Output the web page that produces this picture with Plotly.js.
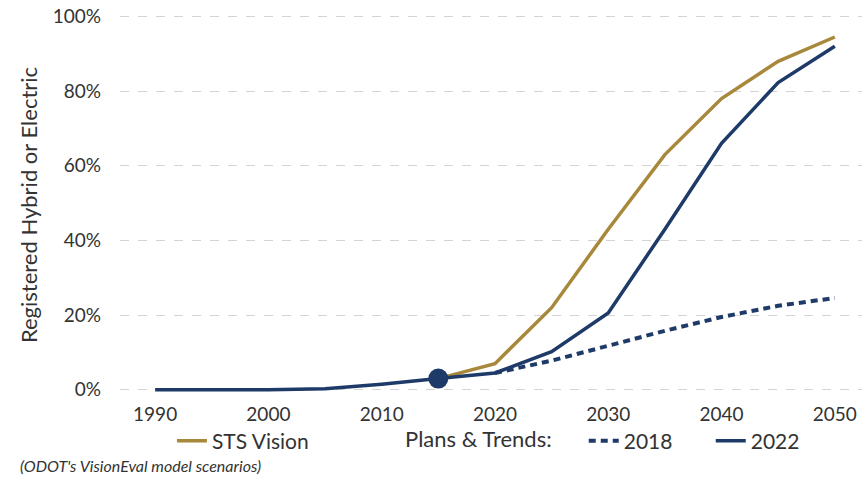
<!DOCTYPE html>
<html><head><meta charset="utf-8">
<script src="https://cdn.plot.ly/plotly-3.0.1.min.js"></script>
<style>body{margin:0;background:#fff}#c{width:866px;height:481px}</style>
</head><body><div id="c"></div>
<script>
const histYears = [1990, 1995, 2000, 2005, 2010, 2015];
const histValues = [0.0, 0.0, 0.0, 0.3, 1.5, 3.0];
const futYears = [2015, 2020, 2025, 2030, 2035, 2040, 2045, 2050];
const stsVision = [3.0, 7.0, 22.0, 43.0, 63.0, 78.0, 88.0, 94.5];
const plans2022 = [3.0, 4.5, 10.2, 20.6, 43.0, 66.0, 82.3, 92.0];
const yrs2018 = [2020, 2025, 2030, 2035, 2040, 2045, 2050];
const plans2018 = [4.5, 7.8, 11.8, 15.8, 19.5, 22.5, 24.6];
const markerYear = [2015];
const markerValue = [3.0];
const xTicks = [1990, 2000, 2010, 2020, 2030, 2040, 2050];
const yTicks = [0, 20, 40, 60, 80, 100];
const yTickText = ['0%', '20%', '40%', '60%', '80%', '100%'];

const GOLD = '#A8883A', NAVY = '#1E3A68';
const FONT = 'Lato, "Open Sans", sans-serif';

const traces = [
  {x: yrs2018, y: plans2018, mode: 'lines', name: '2018', legend: 'legend2',
   line: {color: NAVY, width: 4, dash: '7px,5px'}},
  {x: futYears, y: stsVision, mode: 'lines', name: 'STS Vision', legend: 'legend',
   line: {color: GOLD, width: 3.5}},
  {x: futYears, y: plans2022, mode: 'lines', name: '2022', legend: 'legend2',
   line: {color: NAVY, width: 3.5}},
  {x: histYears, y: histValues, mode: 'lines', showlegend: false,
   line: {color: NAVY, width: 3.5}},
  {x: markerYear, y: markerValue, mode: 'markers', showlegend: false,
   marker: {color: NAVY, size: 20}}
];

const layout = {
  width: 866, height: 481,
  margin: {l: 120, r: 4, t: 9, b: 80},
  paper_bgcolor: '#fff', plot_bgcolor: '#fff',
  font: {family: FONT, color: '#333', size: 19},
  showlegend: true,
  xaxis: {range: [1986.9, 2052.4], tickvals: xTicks, ticktext: xTicks.map(String),
          showgrid: false, zeroline: false, showline: false, ticks: '',
          tickfont: {size: 19, color: '#333'}},
  yaxis: {range: [-3, 102], tickvals: yTicks, ticktext: yTickText,
          showgrid: true, gridcolor: '#d4d4d4', griddash: 'dash', gridwidth: 1,
          zeroline: false, showline: false, ticks: '', ticklabelstandoff: 18,
          tickfont: {size: 19, color: '#333'},
          title: {text: 'Registered Hybrid or Electric', font: {size: 22, color: '#333'}, standoff: 9}},
  legend: {orientation: 'h', x: 0.07, xanchor: 'left', y: -0.05, yanchor: 'top',
           font: {size: 21, color: '#333'}, bgcolor: 'rgba(0,0,0,0)', itemwidth: 30},
  legend2: {orientation: 'h', x: 0.625, xanchor: 'left', y: -0.05, yanchor: 'top',
            font: {size: 21, color: '#333'}, bgcolor: 'rgba(0,0,0,0)', itemwidth: 30,
            entrywidth: 82, traceorder: 'normal'},
  annotations: [
    {text: 'Plans & Trends:', xref: 'paper', yref: 'paper', x: 0.382, y: -0.055,
     xanchor: 'left', yanchor: 'top', showarrow: false, font: {size: 22, color: '#333'}},
    {text: "<i>(ODOT's VisionEval model scenarios)</i>", xref: 'paper', yref: 'paper',
     x: -0.137, y: -0.135, xanchor: 'left', yanchor: 'top', showarrow: false,
     font: {size: 16, color: '#333'}}
  ]
};
Plotly.newPlot('c', traces, layout, {displayModeBar: false, staticPlot: true});
</script></body></html>
